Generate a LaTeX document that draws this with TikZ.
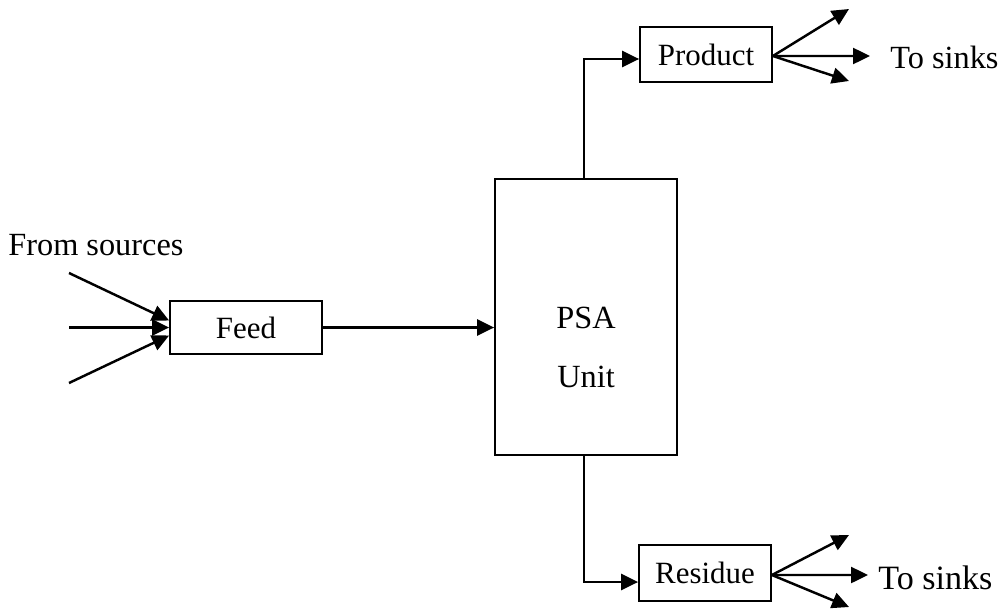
\documentclass[tikz,border=0pt]{standalone}
\usepackage{fontspec}
\setmainfont{Liberation Serif}
\usetikzlibrary{arrows.meta}
\begin{document}
\begin{tikzpicture}[x=0.02cm,y=-0.02cm,
  every node/.style={font=\fontsize{18.4}{22}\selectfont},
  boxtext/.style={font=\fontsize{17.6}{21}\selectfont},
  blk/.style={draw,line width=1pt,inner sep=0pt},
  flow/.style={line width=1.4pt,-{Triangle[length=0.34cm,width=0.32cm]}},
  txt/.style={inner sep=0pt}]
\useasboundingbox (0,0) rectangle (1000,612);

% blocks
\node[blk,boxtext,minimum width=152*0.02cm,minimum height=53*0.02cm] (feed) at (246,327.5) {Feed};
\node[blk,minimum width=182*0.02cm,minimum height=276*0.02cm] (psa) at (586,317) {};
\node[txt] (psal1) at (586,318) {PSA};
\node[txt] (psal2) at (586,377) {Unit};
\node[blk,boxtext,minimum width=132*0.02cm,minimum height=55*0.02cm] (product) at (706,54.5) {Product};
\node[blk,boxtext,minimum width=132*0.02cm,minimum height=56*0.02cm] (residue) at (705,573) {Residue};

% labels
\node[txt,anchor=west] (from) at (8,245) {From sources};
\node[txt,anchor=west] (sinkA) at (890,57) {To sinks};
\node[txt,anchor=west,font=\fontsize{19.4}{23}\selectfont] (sinkB) at (878,578) {To sinks};

% source stream ends
\coordinate (s1) at (69,273);
\coordinate (s2) at (69,327.5);
\coordinate (s3) at (69,383);

% sink stream ends
\coordinate (p1) at (849,9);
\coordinate (p2) at (870,56);
\coordinate (p3) at (849,81);
\coordinate (r1) at (849,535);
\coordinate (r2) at (868,575);
\coordinate (r3) at (849,607);

% incoming streams
\draw[flow] (s1) -- ([yshift=0.14cm]feed.west);
\draw[flow] (s2) -- (feed.west);
\draw[flow] (s3) -- ([yshift=-0.16cm]feed.west);

% feed to unit
\draw[flow] (feed.east) -- (feed.east -| psa.west);

% unit outlets
\draw[flow] ([xshift=-0.04cm]psa.north) |- ([yshift=-0.09cm]product.west);
\draw[flow] ([xshift=-0.04cm]psa.south) |- ([yshift=-0.18cm]residue.west);

% outgoing streams
\draw[flow] ([yshift=-0.03cm]product.east) -- (p1);
\draw[flow] ([yshift=-0.03cm]product.east) -- (p2);
\draw[flow] ([yshift=-0.03cm]product.east) -- (p3);
\draw[flow] ([yshift=-0.04cm]residue.east) -- (r1);
\draw[flow] ([yshift=-0.04cm]residue.east) -- (r2);
\draw[flow] ([yshift=-0.04cm]residue.east) -- (r3);
\end{tikzpicture}
\end{document}
